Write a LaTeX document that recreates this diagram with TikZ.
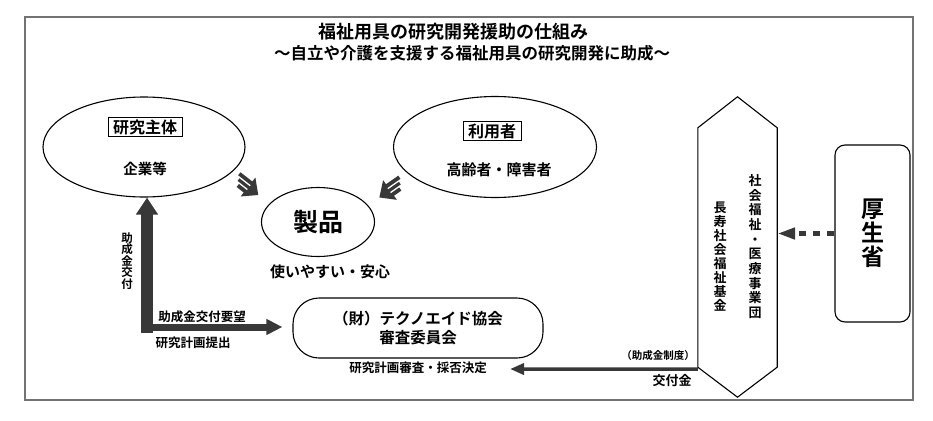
\documentclass[tikz,border=0pt]{standalone}
\usepackage{fontspec}
\setmainfont{Noto Sans CJK JP}[BoldFont=* Bold]
\usepackage{tikz}
\usetikzlibrary{arrows.meta, positioning, calc, shapes.geometric}

\colorlet{arrowgray}{black!78}

\begin{document}
\begin{tikzpicture}[
  x=1pt, y=-1pt,
  txt/.style    = {font={\fontsize{#1}{#1}\selectfont\bfseries}},
  oval/.style   = {draw, ellipse, line width=1.1pt, minimum width=202pt, minimum height=100pt},
  tag/.style    = {draw, line width=0.6pt, inner xsep=5pt, inner ysep=2pt},
  roundbox/.style = {draw, line width=1.1pt, align=center},
  frame/.style  = {draw=black!55, line width=1.3pt},
  fatarrow/.style = {draw=arrowgray, line width=12pt, line cap=rect, -{Triangle[width=21pt,length=17pt]}},
  thinarrow/.style = {draw=arrowgray, line width=3.5pt, -{Triangle[width=11pt,length=14pt]}},
  dotarrow/.style = {draw=arrowgray, line width=5pt, dash pattern=on 7pt off 7pt, -{Triangle[width=11pt,length=18pt]}},
  hand/.pic = {
    \fill[arrowgray] (-15,-7) -- (0,-7) -- (0,-12) -- (13,0) -- (0,12) -- (0,7) -- (-9,7)
      -- (-9,2.4) -- (-12,2.4) -- (-12,-2.4) -- (-15,-2.4) -- cycle;
    \draw[white, line width=1.3pt] (-16,-2.4) -- (1,-2.4) (-16,2.4) -- (1,2.4);
  }
]
  \useasboundingbox (0,0) rectangle (933,420);

  % outer frame
  \draw[frame] (25,17) rectangle (913,400);

  % titles
  \node[txt=18pt] (title) at (453,32) {福祉用具の研究開発援助の仕組み};
  \node[txt=16.5pt] (subtitle) at (472,53) {～自立や介護を支援する福祉用具の研究開発に助成～};

  % research body
  \node[oval] (research) at (144,147) {};
  \node[tag, txt=16pt] (researchtag) at (145,127) {研究主体};
  \node[txt=14.5pt] (company) at (145,169) {企業等};

  % users
  \node[oval, minimum width=203pt, minimum height=101pt] (user) at (495,147) {};
  \node[tag, txt=16pt] (usertag) at (492,131) {利用者};
  \node[txt=15pt] (elderly) at (499,170) {高齢者・障害者};

  % product
  \node[oval, minimum width=113pt, minimum height=69pt, txt=25pt] (product) at (318,222) {製品};
  \node[txt=15pt] (safe) at (330,272) {使いやすい・安心};

  % hands pointing at the product
  \pic[rotate=-38] at (248,187) {hand};
  \pic[rotate=-145, yscale=-1] at (390,190) {hand};

  % Technoaid council
  \node[roundbox, minimum width=250pt, minimum height=60pt, rounded corners=26pt,
        font=\fontsize{15.5pt}{19pt}\selectfont\bfseries] (council) at (418,328)
        {（財）テクノエイド協会\\審査委員会};
  \node[txt=12.5pt] (review) at (418,368) {研究計画審査・採否決定};

  % fund (hexagon)
  \node[minimum width=79pt, minimum height=300pt] (fund) at (737.5,247) {};
  \draw[line width=1.1pt] (fund.north) -- ($(fund.north east)+(0,31)$) -- ($(fund.south east)+(0,-30)$)
    -- (fund.south) -- ($(fund.south west)+(0,-30)$) -- ($(fund.north west)+(0,31)$) -- cycle;
  \node[align=center, font=\fontsize{13pt}{14.7pt}\selectfont\bfseries] (welfare) at (755,246.5)
    {社\\会\\福\\祉\\・\\医\\療\\事\\業\\団};
  \node[align=center, font=\fontsize{13pt}{14.1pt}\selectfont\bfseries] (longevity) at (720,256.5)
    {長\\寿\\社\\会\\福\\祉\\基\\金};

  % ministry
  \node[roundbox, minimum width=75pt, minimum height=177pt, rounded corners=10pt,
        font=\fontsize{23pt}{24pt}\selectfont\bfseries] (ministry) at (872.5,233.5) {厚\\生\\省};

  % connectors
  \draw[dotarrow] (ministry.west) -- (ministry.west -| fund.east);

  \coordinate (bend) at (147,327);
  \draw[fatarrow] (bend) -- (bend |- research.south);
  \draw[fatarrow, line width=7pt, shorten >=10pt, -{Triangle[width=15pt,length=16pt]}] (bend) -- (bend -| council.west);
  \node[align=center, font=\fontsize{11.5pt}{11.5pt}\selectfont\bfseries] (grant) at (127,261) {助\\成\\金\\交\\付};
  \node[txt=12.5pt] (request) at (202,317) {助成金交付要望};
  \node[txt=12.5pt] (plan) at (193,343) {研究計画提出};

  \coordinate (payout) at (510,369);
  \draw[thinarrow] ($(fund.south west)+(0,-28)$) -- (payout);
  \node[txt=10.5pt] (system) at (658,356) {（助成金制度）};
  \node[txt=13pt] (money) at (672,381) {交付金};

\end{tikzpicture}
\end{document}
